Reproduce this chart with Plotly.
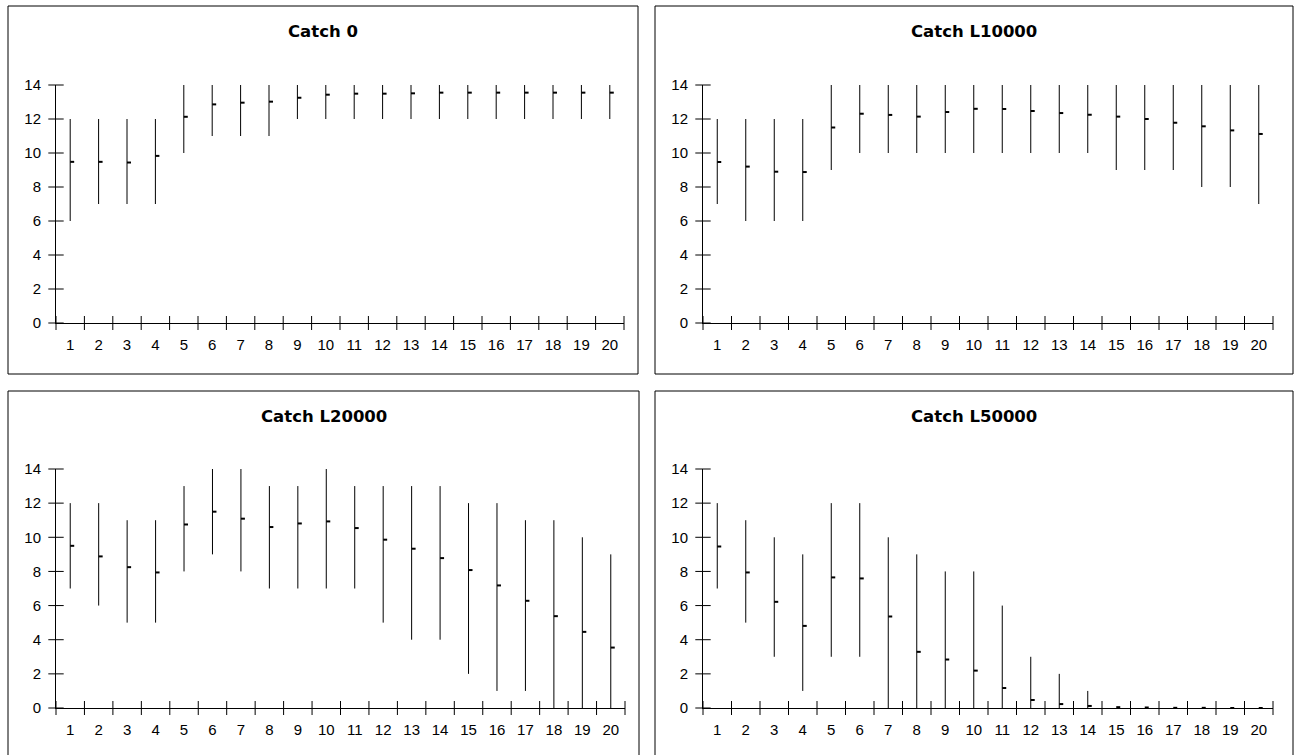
import plotly.graph_objects as go

# ---------------- data ----------------
categories = list(range(1, 21))
y_ticks = [0, 2, 4, 6, 8, 10, 12, 14]

titles = ["Catch 0", "Catch L10000", "Catch L20000", "Catch L50000"]

c0_high = [12, 12, 12, 12, 14, 14, 14, 14, 14, 14, 14, 14, 14, 14, 14, 14, 14, 14, 14, 14]
c0_low = [6, 7, 7, 7, 10, 11, 11, 11, 12, 12, 12, 12, 12, 12, 12, 12, 12, 12, 12, 12]
c0_mean = [9.48, 9.48, 9.44, 9.83, 12.13, 12.86, 12.96, 13.02, 13.25, 13.43,
           13.49, 13.49, 13.51, 13.55, 13.55, 13.55, 13.55, 13.55, 13.55, 13.55]

c10_high = [12, 12, 12, 12, 14, 14, 14, 14, 14, 14, 14, 14, 14, 14, 14, 14, 14, 14, 14, 14]
c10_low = [7, 6, 6, 6, 9, 10, 10, 10, 10, 10, 10, 10, 10, 10, 9, 9, 9, 8, 8, 7]
c10_mean = [9.47, 9.2, 8.9, 8.88, 11.5, 12.31, 12.24, 12.14, 12.41, 12.6,
            12.59, 12.47, 12.35, 12.25, 12.14, 12.0, 11.78, 11.57, 11.33, 11.12]

c20_high = [12, 12, 11, 11, 13, 14, 14, 13, 13, 14, 13, 13, 13, 13, 12, 12, 11, 11, 10, 9]
c20_low = [7, 6, 5, 5, 8, 9, 8, 7, 7, 7, 7, 5, 4, 4, 2, 1, 1, 0, 0, 0]
c20_mean = [9.5, 8.88, 8.25, 7.94, 10.75, 11.5, 11.09, 10.6, 10.81, 10.93,
            10.54, 9.86, 9.33, 8.78, 8.08, 7.18, 6.28, 5.38, 4.46, 3.54]

c50_high = [12, 11, 10, 9, 12, 12, 10, 9, 8, 8, 6, 3, 2, 1, 0, 0, 0, 0, 0, 0]
c50_low = [7, 5, 3, 1, 3, 3, 0, 0, 0, 0, 0, 0, 0, 0, 0, 0, 0, 0, 0, 0]
c50_mean = [9.46, 7.94, 6.22, 4.81, 7.65, 7.59, 5.36, 3.29, 2.84, 2.19,
            1.17, 0.47, 0.23, 0.12, 0.05, 0.03, 0.01, 0.01, 0.0, 0.0]

highs = [c0_high, c10_high, c20_high, c50_high]
lows = [c0_low, c10_low, c20_low, c50_low]
means = [c0_mean, c10_mean, c20_mean, c50_mean]

# ---------------- layout geometry (pixels) ----------------
W, H = 1294, 755
# panel border boxes (x0, y0, x1, y1) and plot areas (x0, ytop, x1, ybottom)
boxes = [(8, 6, 638, 374), (655, 6, 1293, 374), (8, 391, 639, 758), (655, 391, 1293, 758)]
plots = [(56, 85, 624, 323), (703, 85, 1273, 323), (56, 469, 625, 708), (703, 469, 1273, 708)]
title_y = [31, 31, 416, 416]

FONT = "Arial, 'Liberation Sans', sans-serif"
TITLE_FONT = "'DejaVu Sans', Arial, sans-serif"


def fx(p):
    return p / W


def fy(p):
    return 1 - p / H


fig = go.Figure()
layout = dict(
    template="none",
    width=W, height=H,
    margin=dict(l=0, r=0, t=0, b=0, pad=0, autoexpand=False),
    paper_bgcolor="white", plot_bgcolor="white",
    showlegend=False,
    font=dict(family=FONT, color="black"),
    shapes=[], annotations=[],
)

half = 0.5
boundaries = [c - half for c in categories] + [categories[-1] + half]

for i in range(4):
    n = i + 1
    xa = "x" if n == 1 else f"x{n}"
    ya = "y" if n == 1 else f"y{n}"

    # vertical high-low lines
    vx, vy = [], []
    for c, lo, hi in zip(categories, lows[i], highs[i]):
        vx += [c, c, None]
        vy += [lo, hi, None]
    fig.add_trace(go.Scatter(x=vx, y=vy, mode="lines", xaxis=xa, yaxis=ya,
                             line=dict(color="black", width=1), hoverinfo="skip",
                             cliponaxis=False))
    # mean ticks (to the right of each line)
    tx, ty = [], []
    for c, m in zip(categories, means[i]):
        tx += [c, c + 0.14, None]
        ty += [m, m, None]
    fig.add_trace(go.Scatter(x=tx, y=ty, mode="lines", xaxis=xa, yaxis=ya,
                             line=dict(color="black", width=2), hoverinfo="skip",
                             cliponaxis=False))
    # crossing tick marks on x axis
    fig.add_trace(go.Scatter(x=boundaries, y=[0] * len(boundaries), mode="markers",
                             xaxis=xa, yaxis=ya, hoverinfo="skip", cliponaxis=False,
                             marker=dict(symbol="line-ns", size=10,
                                         line=dict(color="black", width=1))))
    # crossing tick marks on y axis
    fig.add_trace(go.Scatter(x=[boundaries[0]] * len(y_ticks), y=y_ticks, mode="markers",
                             xaxis=xa, yaxis=ya, hoverinfo="skip", cliponaxis=False,
                             marker=dict(symbol="line-ew", size=11,
                                         line=dict(color="black", width=1))))

    px0, pyt, px1, pyb = plots[i]
    layout["xaxis" if n == 1 else f"xaxis{n}"] = dict(
        domain=[fx(px0), fx(px1)], anchor=ya, range=[boundaries[0], boundaries[-1]],
        tickmode="array", tickvals=categories, ticktext=[str(c) for c in categories],
        ticks="", showline=True, linecolor="black", linewidth=1,
        showgrid=False, zeroline=False, fixedrange=True, automargin=False,
        tickfont=dict(size=15, family=FONT, color="black"), ticklabelstandoff=8,
    )
    layout["yaxis" if n == 1 else f"yaxis{n}"] = dict(
        domain=[fy(pyb), fy(pyt)], anchor=xa, range=[0, 14],
        tickmode="array", tickvals=y_ticks, ticktext=[str(v) for v in y_ticks],
        ticks="", showline=True, linecolor="black", linewidth=1,
        showgrid=False, zeroline=False, fixedrange=True, automargin=False,
        tickfont=dict(size=15, family=FONT, color="black"), ticklabelstandoff=11,
    )

    bx0, by0, bx1, by1 = boxes[i]
    layout["shapes"].append(dict(type="rect", xref="paper", yref="paper",
                                 x0=fx(bx0), x1=fx(bx1), y0=fy(by1), y1=fy(by0),
                                 line=dict(color="black", width=1), layer="below"))
    layout["annotations"].append(dict(
        text=f"<b>{titles[i]}</b>", xref="paper", yref="paper",
        x=fx((bx0 + bx1) / 2), y=fy(title_y[i]), xanchor="center", yanchor="middle",
        showarrow=False, font=dict(size=16.5, family=TITLE_FONT, color="black")))

fig.update_layout(**layout)

# pin the figure to the top-left corner of the page (no body margin offset)
post = ("var gd=document.getElementById('{plot_id}');"
        "document.body.style.margin='0';"
        "gd.style.position='fixed';gd.style.left='0px';gd.style.top='0px';")
fig.write_html("out.html", post_script=post,
               config={"displayModeBar": False, "staticPlot": True})
